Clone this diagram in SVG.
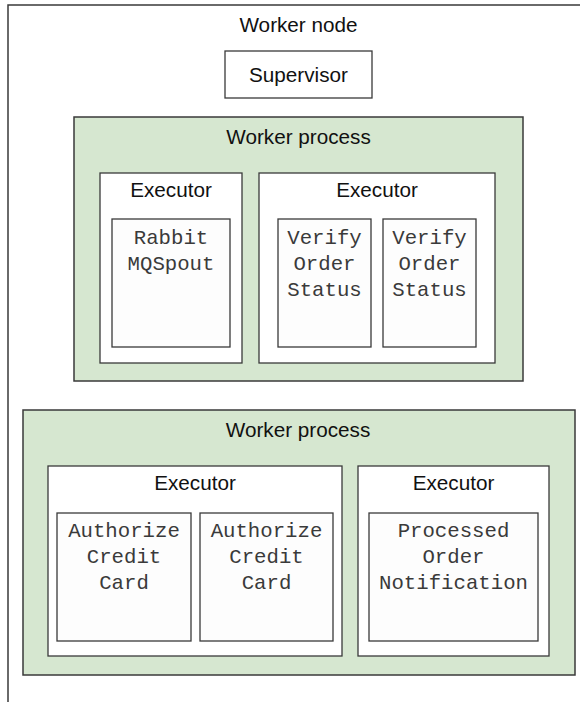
<svg xmlns="http://www.w3.org/2000/svg" width="580" height="702" viewBox="0 0 580 702">
<style>
.outer{fill:#ffffff;stroke:#3a3a3a;stroke-width:1.5}
.proc{fill:#d6e7d0;stroke:#3a3a3a;stroke-width:1.5}
.exec{fill:#ffffff;stroke:#3a3a3a;stroke-width:1.3}
.task{fill:#fdfdfd;stroke:#3a3a3a;stroke-width:1.3}
.sans{font-family:"Liberation Sans",Arial,sans-serif;font-size:20.7px;fill:#111;text-anchor:middle}
.mono{font-family:"Liberation Mono","Courier New",monospace;font-size:20.7px;fill:#3a3a3a;text-anchor:middle}
</style>
<rect width="580" height="702" fill="#ffffff"/>
<g id="worker-node">
<rect class="outer" x="8" y="5" width="600" height="720"/>
<text class="sans" x="298.5" y="32">Worker node</text>
</g>
<g id="supervisor">
<rect class="exec" x="225" y="51" width="147" height="47"/>
<text class="sans" x="298.5" y="82">Supervisor</text>
</g>
<g id="worker-process-1">
<rect class="proc" x="74" y="117" width="449" height="264"/>
<text class="sans" x="298.5" y="144">Worker process</text>
</g>
<g id="executor-1">
<rect class="exec" x="100" y="173" width="142" height="190"/>
<text class="sans" x="171" y="197">Executor</text>
</g>
<g id="rabbit-mq-spout">
<rect class="task" x="112" y="219" width="118" height="128"/>
<text class="mono" x="171" y="244">Rabbit</text>
<text class="mono" x="171" y="270">MQSpout</text>
</g>
<g id="executor-2">
<rect class="exec" x="259" y="173" width="236" height="190"/>
<text class="sans" x="377" y="197">Executor</text>
</g>
<g id="verify-order-status-1">
<rect class="task" x="278" y="219" width="93" height="128"/>
<text class="mono" x="324.5" y="244">Verify</text>
<text class="mono" x="324.5" y="270">Order</text>
<text class="mono" x="324.5" y="296">Status</text>
</g>
<g id="verify-order-status-2">
<rect class="task" x="383" y="219" width="93" height="128"/>
<text class="mono" x="429.5" y="244">Verify</text>
<text class="mono" x="429.5" y="270">Order</text>
<text class="mono" x="429.5" y="296">Status</text>
</g>
<g id="worker-process-2">
<rect class="proc" x="23" y="410" width="552" height="265"/>
<text class="sans" x="298" y="437">Worker process</text>
</g>
<g id="executor-3">
<rect class="exec" x="48" y="466" width="294" height="190"/>
<text class="sans" x="195" y="490">Executor</text>
</g>
<g id="authorize-credit-card-1">
<rect class="task" x="57" y="513" width="134" height="128"/>
<text class="mono" x="124" y="537">Authorize</text>
<text class="mono" x="124" y="563">Credit</text>
<text class="mono" x="124" y="589">Card</text>
</g>
<g id="authorize-credit-card-2">
<rect class="task" x="200" y="513" width="133" height="128"/>
<text class="mono" x="266.5" y="537">Authorize</text>
<text class="mono" x="266.5" y="563">Credit</text>
<text class="mono" x="266.5" y="589">Card</text>
</g>
<g id="executor-4">
<rect class="exec" x="358" y="466" width="191" height="190"/>
<text class="sans" x="453.5" y="490">Executor</text>
</g>
<g id="processed-order-notification">
<rect class="task" x="369" y="513" width="169" height="128"/>
<text class="mono" x="453.5" y="537">Processed</text>
<text class="mono" x="453.5" y="563">Order</text>
<text class="mono" x="453.5" y="589">Notification</text>
</g>
<g id="connectors"/>
</svg>
